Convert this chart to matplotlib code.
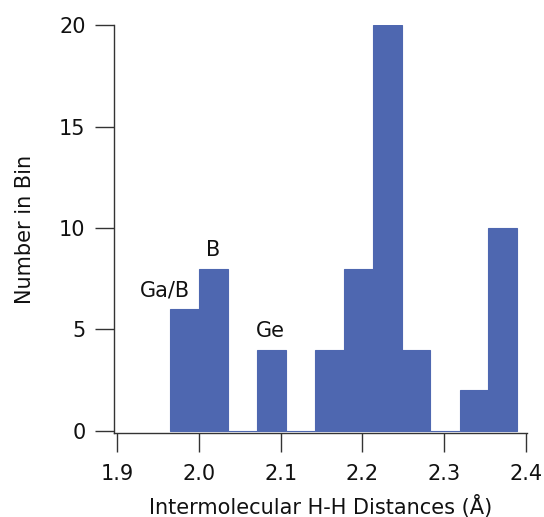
import matplotlib
matplotlib.use("Agg")
import matplotlib.pyplot as plt

bin_edges = [1.965, 2.000, 2.036, 2.071, 2.106, 2.142, 2.177, 2.213, 2.248, 2.283, 2.319, 2.354, 2.389]
counts = [6, 8, 0, 4, 0, 4, 8, 20, 4, 0, 2, 10]
annot_text = ["Ga/B", "B", "Ge"]
annot_x = [1.958, 2.018, 2.088]
annot_y = [6.92, 8.92, 4.93]
x_ticks = [1.9, 2.0, 2.1, 2.2, 2.3, 2.4]
y_ticks = [0, 5, 10, 15, 20]

plt.rcParams['font.family'] = ['DejaVu Sans']
color = '#4e67b0'
axc = '#333333'
fs = 15

fig = plt.figure(figsize=(5.44, 5.17), dpi=100)
ax = fig.add_axes([0.2096, 0.1625, 0.7592, 0.7891])

lefts = bin_edges[:-1]
widths = [b - a for a, b in zip(bin_edges[:-1], bin_edges[1:])]
ax.bar(lefts, counts, width=widths, align='edge', color=color,
       edgecolor=color, linewidth=0.8)

for t, x, y in zip(annot_text, annot_x, annot_y):
    ax.text(x, y, t, ha='center', va='center', fontsize=fs, color='#111111')

ax.set_xlim(1.8963, 2.4012)
ax.set_ylim(-0.1, 20)
ax.set_xticks(x_ticks)
ax.set_xticklabels([f"{v:.1f}" for v in x_ticks])
ax.set_yticks(y_ticks)

for s in ['top', 'right']:
    ax.spines[s].set_visible(False)
for s in ['left', 'bottom']:
    ax.spines[s].set_color(axc)
    ax.spines[s].set_linewidth(1.0)

ax.tick_params(axis='both', direction='out', length=13.5, width=1.0,
               color=axc, labelsize=fs, labelcolor='#111111')
ax.tick_params(axis='y', pad=7)
ax.tick_params(axis='x', pad=9)

ax.set_xlabel("Intermolecular H-H Distances (Å)", fontsize=fs, color='#111111', labelpad=8)
ax.set_ylabel("Number in Bin", fontsize=fs, color='#111111', labelpad=17)

fig.savefig("out.png", dpi=100)
